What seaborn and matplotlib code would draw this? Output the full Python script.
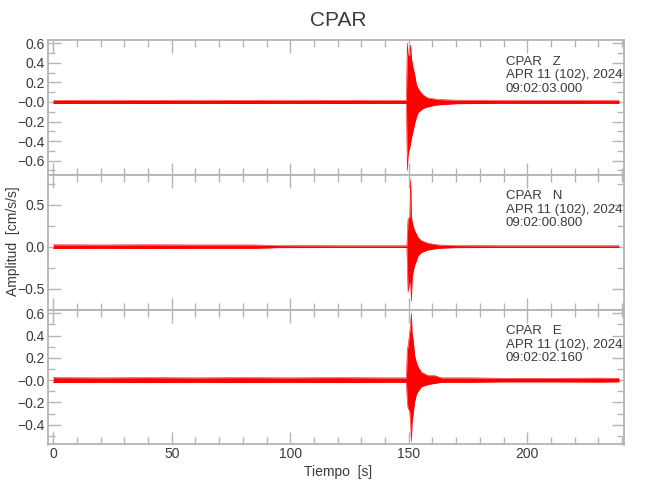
import numpy as np
import pandas as pd
import seaborn as sns
import matplotlib.pyplot as plt
from matplotlib.ticker import MultipleLocator, FixedLocator, FixedFormatter

# envelope of each trace (time in s, amplitude in cm/s/s)
t_z = [0, 20, 40, 60, 80, 100, 120, 140, 149.0, 149.4, 149.7, 150.0, 150.4, 150.8, 151.1,
       151.8, 152.5, 153.2, 153.9, 155.3, 156.7, 158.1, 160.9, 162.3, 170, 190, 210, 230, 238.7]
up_z = [0.016, 0.015, 0.016, 0.015, 0.016, 0.015, 0.016, 0.015, 0.015, 0.60, 0.48, 0.47, 0.48, 0.58, 0.45,
        0.35, 0.28, 0.18, 0.14, 0.09, 0.06, 0.04, 0.03, 0.025, 0.018, 0.014, 0.015, 0.014, 0.014]
lo_z = [-0.016, -0.015, -0.016, -0.015, -0.016, -0.015, -0.016, -0.015, -0.015, -0.70, -0.55, -0.50, -0.47, -0.42, -0.37,
        -0.30, -0.22, -0.16, -0.11, -0.08, -0.06, -0.05, -0.035, -0.03, -0.018, -0.014, -0.015, -0.014, -0.014]

t_n = [0, 20, 40, 60, 85, 95, 120, 140, 149.2, 149.7, 150.4, 150.8, 151.1, 151.4,
       151.8, 152.5, 153.2, 153.9, 155.3, 158.1, 162.3, 170, 190, 210, 230, 238.7]
up_n = [0.022, 0.02, 0.022, 0.02, 0.02, 0.012, 0.01, 0.01, 0.01, 0.33, 0.35, 0.80, 0.37, 0.30,
        0.25, 0.19, 0.15, 0.11, 0.07, 0.04, 0.02, 0.012, 0.01, 0.01, 0.01, 0.01]
lo_n = [-0.022, -0.02, -0.022, -0.02, -0.02, -0.012, -0.01, -0.01, -0.01, -0.54, -0.42, -0.45, -0.65, -0.40,
        -0.30, -0.22, -0.17, -0.11, -0.07, -0.04, -0.02, -0.012, -0.01, -0.01, -0.01, -0.01]

t_e = [0, 20, 40, 60, 80, 100, 120, 140, 149.0, 149.4, 149.7, 150.4, 150.8, 151.1, 151.4,
       151.8, 152.5, 153.2, 153.9, 155.3, 158.1, 160.9, 163.7, 175, 190, 210, 230, 238.7]
up_e = [0.022, 0.02, 0.022, 0.02, 0.022, 0.02, 0.022, 0.02, 0.02, 0.28, 0.30, 0.43, 0.50, 0.60, 0.42,
        0.37, 0.22, 0.16, 0.12, 0.07, 0.04, 0.04, 0.02, 0.02, 0.016, 0.016, 0.018, 0.016]
lo_e = [-0.022, -0.02, -0.022, -0.02, -0.022, -0.02, -0.022, -0.02, -0.02, -0.20, -0.25, -0.28, -0.40, -0.55, -0.38,
        -0.31, -0.19, -0.13, -0.10, -0.06, -0.04, -0.03, -0.02, -0.02, -0.016, -0.016, -0.018, -0.016]

components = ["Z", "N", "E"]
start_times = ["09:02:03.000", "09:02:00.800", "09:02:02.160"]
date_label = "APR 11 (102), 2024"
ylims = [(-0.745, 0.633), (-0.75, 0.854), (-0.578, 0.632)]
yticks = [[-0.6, -0.4, -0.2, 0.0, 0.2, 0.4, 0.6], [-0.5, 0.0, 0.5], [-0.4, -0.2, 0.0, 0.2, 0.4, 0.6]]
ytick_labels = [["\u22120.6", "\u22120.4", "\u22120.2", "\u22120.0", "0.2", "0.4", "0.6"],
                ["\u22120.5", "0.0", "0.5"],
                ["\u22120.4", "\u22120.2", "\u22120.0", "0.2", "0.4", "0.6"]]
yminor = [0.1, 0.25, 0.1]
xticks = [0, 50, 100, 150, 200]

sns.set_style("ticks")
plt.rcParams['font.family'] = ['Liberation Sans', 'DejaVu Sans']

grey = "#b4b4b4"
txt = "#3a3a3a"

fig, axes = plt.subplots(3, 1, figsize=(6.5, 5), dpi=100, sharex=True)
fig.subplots_adjust(left=0.0738, right=0.96, top=0.92, bottom=0.111, hspace=0)

traces = [(t_z, up_z, lo_z), (t_n, up_n, lo_n), (t_e, up_e, lo_e)]
for i, ax in enumerate(axes):
    t, up, lo = traces[i]
    df = pd.DataFrame({"t": t, "up": up, "lo": lo})
    ax.fill_between(df["t"], df["lo"], df["up"], color="#ff0000", linewidth=0)
    sns.lineplot(data=df, x="t", y="up", ax=ax, color="#ff0000", linewidth=0.4)
    sns.lineplot(data=df, x="t", y="lo", ax=ax, color="#ff0000", linewidth=0.4)
    ax.set_xlim(-2.2, 240.8)
    ax.set_ylim(*ylims[i])
    ax.yaxis.set_major_locator(FixedLocator(yticks[i]))
    ax.yaxis.set_major_formatter(FixedFormatter(ytick_labels[i]))
    ax.yaxis.set_minor_locator(MultipleLocator(yminor[i]))
    ax.xaxis.set_major_locator(FixedLocator(xticks))
    ax.xaxis.set_minor_locator(MultipleLocator(10))
    ax.set_xlabel("")
    ax.set_ylabel("")
    for s in ax.spines.values():
        s.set_color(grey)
        s.set_linewidth(1.3)
    ax.tick_params(which="both", direction="in", top=True, right=True, color=grey,
                   labelcolor=txt, labelsize=10, width=1.0, pad=2)
    ax.tick_params(which="major", length=9)
    ax.tick_params(which="minor", length=5)
    # station / date / start-time block
    ax.text(0.795, 0.84, "CPAR   " + components[i], transform=ax.transAxes,
            fontsize=9.5, color=txt, va="center", ha="left")
    ax.text(0.795, 0.74, date_label, transform=ax.transAxes,
            fontsize=9.5, color=txt, va="center", ha="left")
    ax.text(0.795, 0.64, start_times[i], transform=ax.transAxes,
            fontsize=9.5, color=txt, va="center", ha="left")

axes[-1].set_xticklabels([str(x) for x in xticks])

fig.text(0.52, 0.958, "CPAR", ha="center", va="center", fontsize=15, color=txt)
fig.text(0.52, 0.056, "Tiempo  [s]", ha="center", va="center", fontsize=10, color=txt)
fig.text(0.02, 0.518, "Amplitud  [cm/s/s]", ha="center", va="center", rotation=90,
         fontsize=10, color=txt)

fig.savefig("out.png", dpi=100)
